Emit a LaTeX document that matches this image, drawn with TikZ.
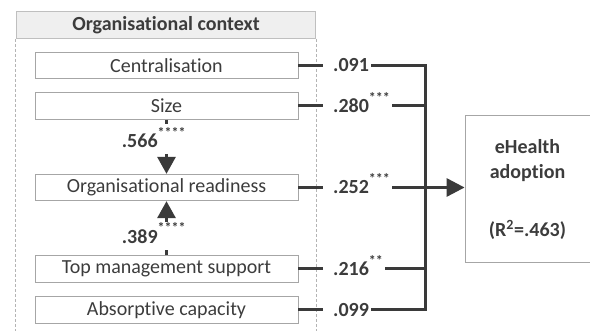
\documentclass[tikz,border=0pt]{standalone}
\usepackage{fontspec}
\setmainfont{Carlito}[Ligatures=NoCommon]
\usetikzlibrary{arrows.meta}
\definecolor{txt}{HTML}{3C3C3C}
\definecolor{ln}{HTML}{3A3A3A}
\definecolor{bord}{HTML}{A6A6A6}
\definecolor{hdrfill}{HTML}{EFEFEF}
\definecolor{hdrbord}{HTML}{BFBFBF}
\definecolor{dsh}{HTML}{B4B4B4}
\newcommand\mystars[1]{\smash{\raisebox{10.5pt}{\fontsize{14}{14}\selectfont #1}}}
\tikzset{
  ibox/.style={draw=bord, line width=0.8pt, minimum width=263pt, minimum height=26.5pt, inner sep=0pt, text=txt, font=\fontsize{20}{24}\selectfont},
  hdr/.style={draw=hdrbord, fill=hdrfill, line width=0.8pt, minimum width=299.5pt, minimum height=27.5pt, inner sep=0pt, text=txt, font=\bfseries\fontsize{20}{24}\selectfont},
  lab/.style={inner sep=0pt, text=txt, font=\bfseries\fontsize{20}{24}\selectfont},
  conn/.style={draw=ln, line width=3pt},
  dashline/.style={draw=dsh, line width=0.8pt, dash pattern=on 3pt off 2pt},
  bigtip/.style={-{Triangle[length=18pt,width=18pt]}},
  vtip/.style={-{Triangle[length=17pt,width=18pt]}},
}
\begin{document}
\begin{tikzpicture}[x=1pt,y=-1pt]
\useasboundingbox (0,0) rectangle (590,331);
% header of the organisational context
\node[hdr] (hdr) at (166,24.75) {Organisational context};
\draw[dashline] (hdr.south west) -- (hdr.south west |- 0,331);
\draw[dashline] (hdr.south east) -- (hdr.south east |- 0,331);
% boxes
\node[ibox] (c1) at (166.5,65.5) {Centralisation};
\node[ibox] (c2) at (166.5,106) {Size};
\node[ibox] (c3) at (166.5,187.5) {Organisational readiness};
\node[ibox] (c4) at (166.5,269) {Top management support};
\node[ibox] (c5) at (166.5,310) {Absorptive capacity};
% outcome box
\node[draw=bord, line width=0.8pt, minimum width=127pt, minimum height=147pt, inner sep=0pt] (eh) at (528.5,188.5) {};
\node[lab, anchor=base] (eh1) at (527.5,154) {eHealth};
\node[lab, anchor=base] (eh2) at (527.5,179) {adoption};
\node[lab, anchor=base] (eh3) at (527.5,237) {(R\textsuperscript{2}=.463)};
% bus coordinates
\coordinate (bt) at (425,65.5);
\coordinate (bb) at (425,310);
% path labels
\node[lab, anchor=west] (l1) at (333,65.5) {.091};
\node[lab, anchor=west] (l2) at (333,106) {.280\mystars{***}};
\node[lab, anchor=west] (l3) at (333,187.5) {.252\mystars{***}};
\node[lab, anchor=west] (l4) at (333,269) {.216\mystars{**}};
\node[lab, anchor=west] (l5) at (333,310) {.099};
% connectors
\draw[conn] (c1.east) -- ([xshift=-10pt]l1.west);
\draw[conn] (c2.east) -- ([xshift=-10pt]l2.west);
\draw[conn] (c3.east) -- ([xshift=-10pt]l3.west);
\draw[conn] (c4.east) -- ([xshift=-10pt]l4.west);
\draw[conn] (c5.east) -- ([xshift=-10pt]l5.west);
\draw[conn] ([xshift=2pt]l1.east) -- (bt) -- (bb) -- ([xshift=2pt]l5.east);
\draw[conn] ([xshift=2pt]l2.east) -- (l2.east -| bt);
\draw[conn] ([xshift=2pt]l3.east) -- (l3.east -| bt);
\draw[conn] ([xshift=2pt]l4.east) -- (l4.east -| bt);
\draw[conn, bigtip] (c3.east -| bt) -- (c3.east -| eh.west);
% vertical effects
\node[lab, anchor=base west] (v1) at (121.7,148) {.566\mystars{****}};
\node[lab, anchor=base west] (v2) at (121.7,243.3) {.389\mystars{****}};
\draw[conn] (c2.south) -- ++(0,4.5);
\draw[conn, vtip] ([yshift=20pt]c3.north) -- (c3.north);
\draw[conn] (c4.north) -- ++(0,-5);
\draw[conn, vtip] ([yshift=-21pt]c3.south) -- (c3.south);
\end{tikzpicture}
\end{document}
